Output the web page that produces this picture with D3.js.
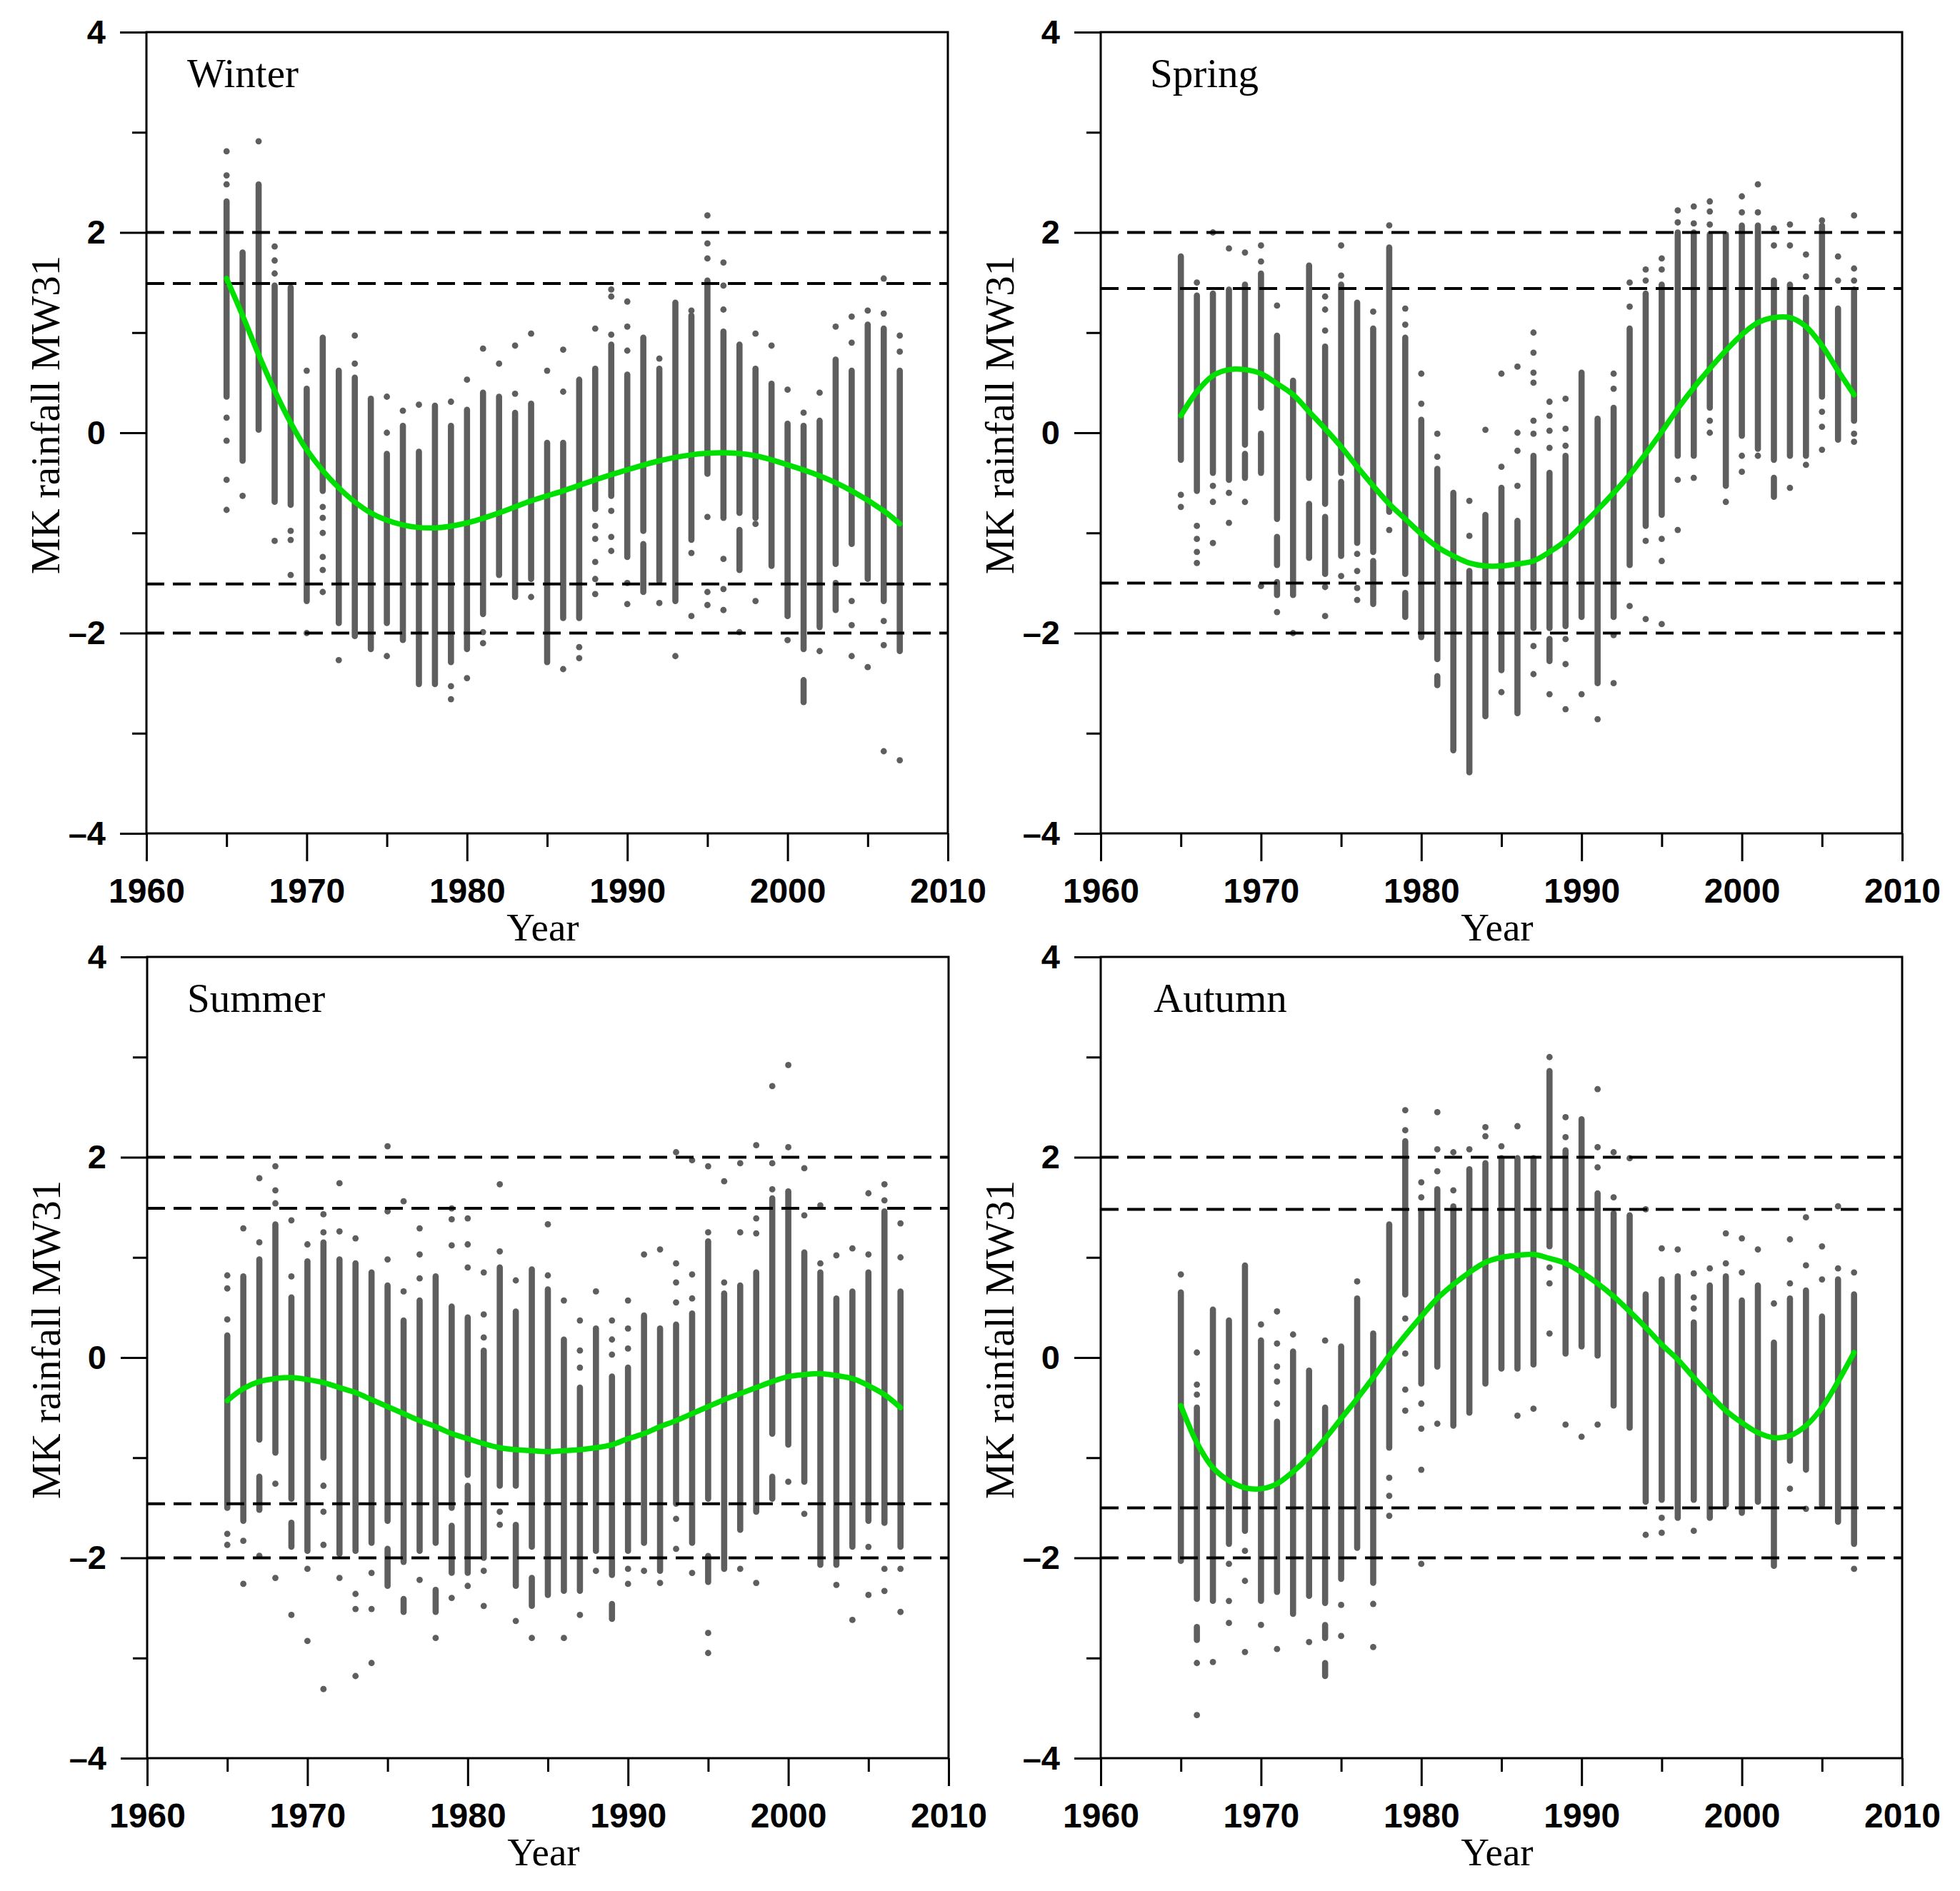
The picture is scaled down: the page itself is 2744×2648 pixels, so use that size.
<!DOCTYPE html>
<html>
<head>
<meta charset="utf-8">
<script src="https://cdn.jsdelivr.net/npm/d3@7"></script>
<style>
  body { margin: 0; background: #fff; }
  svg { display: block; }
</style>
</head>
<body>
<div id="chart"></div>
<script>
// ---- data ----
const years = [1965,1966,1967,1968,1969,1970,1971,1972,1973,1974,
  1975,1976,1977,1978,1979,1980,1981,1982,1983,1984,
  1985,1986,1987,1988,1989,1990,1991,1992,1993,1994,
  1995,1996,1997,1998,1999,2000,2001,2002,2003,2004,
  2005,2006,2007];

const xTicks = [1960,1970,1980,1990,2000,2010];
const xMinor = [1965,1975,1985,1995,2005];
const yTicks = [-4,-2,0,2,4];
const yMinor = [-3,-1,1,3];

// Winter: dense part of each year's column (top / bottom), extra runs, single dots, fitted curve
const winterHi = [2.31,1.80,2.48,1.47,1.45,0.44,0.95,0.62,0.55,0.34,
  -0.21,0.07,-0.19,0.27,0.07,0.23,0.40,0.36,0.20,0.29,
  -0.10,-0.10,0.53,0.64,0.88,0.58,0.95,0.64,1.30,1.17,
  1.52,1.01,0.88,0.64,0.49,0.09,0.07,0.12,0.73,0.62,
  1.08,1.04,0.62];
const winterLo = [0.36,-0.28,0.03,-0.69,-0.72,-1.68,-0.58,-1.90,-2.03,-2.16,
  -1.90,-2.07,-2.51,-2.51,-2.29,-2.16,-1.81,-1.42,-1.64,-1.46,
  -2.29,-1.85,-1.85,-0.76,-0.63,-1.24,-0.98,-1.48,-1.68,-1.07,
  -0.41,-0.85,-0.80,-0.85,-1.33,-1.83,-2.16,-1.94,-1.31,-1.11,
  -1.46,-1.68,-2.18];
const winterRuns = [[1991,-1.11,-1.59],[1997,-0.97,-1.37],[2001,-2.47,-2.69],[2003,-1.50,-1.77]];
const winterDots = [
  [1965,[2.81,2.57,2.48,0.15,-0.08,-0.47,-0.77]],[1966,[-0.63]],[1967,[2.91]],
  [1968,[1.86,1.72,1.59,-1.08]],[1969,[-0.98,-1.07,-1.42]],[1970,[0.62,-2.0]],
  [1971,[-0.74,-0.85,-1.0,-1.24,-1.37,-1.59]],[1972,[-2.27]],[1973,[0.97,0.69]],
  [1975,[0.36,0.0,-2.23]],[1976,[0.22]],[1977,[0.28]],[1979,[0.31,-2.53,-2.66]],
  [1980,[0.53,-2.45]],[1981,[0.84,-1.99,-2.10]],[1982,[0.69]],[1983,[0.87,0.39]],
  [1984,[0.99,-1.64]],[1985,[0.62]],[1986,[0.83,0.41,-2.36]],[1987,[-2.14,-2.25]],
  [1988,[1.04,-0.93,-1.06,-1.29,-1.46,-1.61]],[1989,[1.43,1.36,0.98,-0.78,-1.04,-1.18]],
  [1990,[1.31,1.06,0.82,-1.50,-1.71]],[1992,[0.74,-1.70]],[1993,[-2.23]],
  [1994,[1.22,-1.20,-1.83]],[1995,[2.17,1.89,1.74,-0.84,-1.59,-1.72]],
  [1996,[1.70,1.47,1.23,-1.26,-1.56,-1.77]],[1997,[-1.99]],[1998,[0.99,-0.91,-1.68]],
  [1999,[0.87]],[2000,[0.43,-2.07]],[2001,[0.20]],[2002,[0.40,-2.18]],[2003,[1.06]],
  [2004,[1.16,0.90,-1.68,-1.92,-2.23]],[2005,[1.22,-2.34]],
  [2006,[1.54,1.19,-1.88,-2.12,-3.18]],[2007,[0.97,0.81,-3.27]]];
const winterFitYears = [1965,1966,1967,1968,1969,1970,1972,1974,1976,1978,1980,1982,1984,
  1986,1988,1990,1992,1994,1996,1998,2000,2002,2004,2006,2007];
const winterFit = [1.54,1.17,0.78,0.42,0.10,-0.17,-0.55,-0.80,-0.92,-0.95,-0.90,-0.80,-0.68,
  -0.58,-0.47,-0.37,-0.28,-0.22,-0.20,-0.23,-0.32,-0.43,-0.58,-0.78,-0.91];
const winterLevels = [2, 1.49, -1.51, -2];

// Spring
const springHi = [1.76,1.37,1.39,1.43,1.48,1.59,0.97,0.52,1.67,0.86,
  1.48,1.30,1.04,1.85,0.95,0.13,-0.36,-0.60,-1.38,-0.82,
  -0.55,-0.88,-0.23,-0.40,-0.23,0.60,0.14,0.25,1.04,1.39,
  1.48,2.0,2.0,1.98,1.98,2.07,2.07,1.52,1.48,1.35,
  2.07,1.24,1.43];
const springLo = [-0.27,-0.58,-0.40,-0.47,-0.12,0.25,-0.86,-1.62,-0.45,-0.71,
  -0.40,-1.10,-1.19,-0.79,-1.41,-2.04,-2.26,-3.17,-3.39,-2.83,
  -2.37,-2.80,-1.95,-1.95,-1.93,-1.84,-2.50,-1.84,-1.32,-0.93,
  -0.82,-0.23,-0.23,0.25,-0.53,-0.03,-0.16,-0.27,-0.23,-0.23,
  0.36,-0.07,0.12];
const springRuns = [[1969,-0.21,-0.45],[1970,-0.01,-0.40],[1971,-1.04,-1.32],[1971,-1.49,-1.62],
  [1973,-0.71,-1.25],[1974,-0.84,-1.41],[1975,-0.49,-1.23],[1977,-1.28,-1.71],
  [1979,-1.60,-1.84],[1981,-2.43,-2.52],[1988,-2.06,-2.28],[2002,-0.45,-0.64]];
const springDots = [
  [1965,[-0.62,-0.74]],[1966,[1.50,-0.93,-1.06,-1.19,-1.30]],[1967,[2.0,-0.53,-0.69,-1.10]],
  [1968,[1.84,-0.60,-0.90]],[1969,[1.80,-0.69]],[1970,[1.87,1.71,-1.53]],[1971,[1.27,-1.79]],
  [1972,[-2.0]],[1974,[1.36,1.23,1.02,-1.54,-1.83]],[1975,[1.87,1.57,-1.43]],
  [1976,[-1.21,-1.38,-1.55,-1.67]],[1977,[1.21]],[1978,[2.07,-0.97]],[1979,[1.24,1.08]],
  [1980,[0.59,0.29]],[1981,[-0.01,-0.24]],[1983,[-0.68,-1.03]],[1984,[0.03]],
  [1985,[0.59,-0.34,-2.59]],[1986,[0.66,0.0,-0.18,-0.53]],
  [1987,[1.0,0.80,0.60,0.50,0.12,-0.01,-2.13,-2.41]],[1988,[0.31,0.17,0.02,-0.15,-2.61]],
  [1989,[0.34,0.04,-0.13,-2.06,-2.31,-2.76]],[1990,[-2.61]],[1991,[-2.86]],
  [1992,[0.59,0.44,-2.02,-2.50]],[1993,[1.50,1.26,-1.73]],[1994,[1.63,1.52,-1.08,-1.86]],
  [1995,[1.74,1.63,-1.06,-1.28,-1.91]],[1996,[2.22,2.10,-0.47,-0.97]],[1997,[2.26,2.09,-0.45]],
  [1998,[2.31,2.21,2.08,0.12,0.0]],[1999,[-0.69]],[2000,[2.36,2.20,-0.23,-0.39]],
  [2001,[2.48,2.20,-0.23]],[2002,[2.04,1.87]],[2003,[2.08,1.87,-0.55]],[2004,[1.78,1.56,-0.32]],
  [2005,[2.12,0.21,0.06,-0.17]],[2006,[1.76,1.52]],[2007,[2.17,1.64,1.52,-0.01,-0.09]]];
const springFitYears = years;
const springFit = [0.17,0.41,0.57,0.63,0.63,0.59,0.49,0.38,0.21,0.04,
  -0.14,-0.34,-0.53,-0.71,-0.86,-1.01,-1.14,-1.23,-1.30,-1.33,
  -1.33,-1.31,-1.28,-1.19,-1.08,-0.93,-0.77,-0.60,-0.42,-0.21,
  0.01,0.24,0.45,0.64,0.82,0.98,1.10,1.15,1.15,1.06,
  0.87,0.62,0.38];
const springLevels = [2, 1.44, -1.5, -2];

// Summer
const summerHi = [0.22,0.81,0.98,1.33,0.60,0.96,1.15,0.98,0.94,0.85,
  0.72,0.37,0.57,0.81,0.51,0.40,0.07,0.90,0.46,0.88,
  0.68,0.18,-0.30,0.29,-0.19,-0.10,0.42,0.29,0.33,0.44,
  1.16,0.64,0.72,0.85,1.59,1.66,1.05,0.85,0.59,0.66,
  0.85,1.46,0.66];
const summerLo = [-1.50,-1.63,-0.82,-0.95,-1.41,-1.93,-1.0,-1.96,-1.93,-1.85,
  -1.63,-2.04,-1.93,-1.85,-1.50,-1.17,-2.0,-1.28,-1.28,-1.89,
  -2.37,-2.33,-2.33,-1.93,-2.17,-1.93,-1.85,-2.13,-1.46,-1.85,
  -1.41,-2.11,-1.72,-1.54,-0.76,-0.87,-1.24,-2.07,-2.07,-1.89,
  -1.63,-1.65,-1.89];
const summerRuns = [[1967,-1.19,-1.52],[1969,-1.65,-1.89],[1975,-1.91,-2.28],[1976,-2.41,-2.54],
  [1978,-2.32,-2.54],[1979,-1.68,-2.15],[1980,-1.28,-2.15],[1983,-1.67,-2.28],
  [1984,-2.20,-2.48],[1989,-2.46,-2.61],[1995,-1.98,-2.24],[1999,-1.19,-1.41]];
const summerDots = [
  [1965,[0.82,0.69,0.38,-1.76,-1.87]],[1966,[1.29,-1.83,-2.26]],[1967,[1.79,1.15,-1.98]],
  [1968,[1.91,1.67,1.54,-1.26,-2.20]],[1969,[1.37,0.81,-2.57]],[1970,[1.13,-2.11,-2.83]],
  [1971,[1.43,1.25,-1.28,-1.54,-1.87,-3.31]],[1972,[1.74,1.26,-2.20]],
  [1973,[1.19,-2.36,-2.51,-3.18]],[1974,[-2.15,-2.51,-3.05]],[1975,[2.11,1.46,0.98]],
  [1976,[1.56,0.66]],[1977,[1.29,1.03,0.79,-2.22]],[1978,[-2.80]],[1979,[1.49,1.38,1.12,-2.40]],
  [1980,[1.39,1.13,0.90,-2.28]],[1981,[0.85,0.43,0.20,-2.13,-2.48]],[1982,[1.73,1.06,-1.54,-1.67]],
  [1983,[0.77,-2.63]],[1984,[-2.80]],[1985,[1.33,0.82]],[1986,[0.57,-2.80]],
  [1987,[0.37,0.07,-0.10,-2.57]],[1988,[0.66,-2.13]],[1989,[0.37,0.18,0.03]],
  [1990,[0.57,0.29,0.09,-2.11,-2.26]],[1991,[1.03,-2.13]],[1992,[1.08,-2.25]],
  [1993,[2.05,0.94,0.75,0.55,-1.61,-1.91]],[1994,[1.97,0.83,0.59,-2.15]],
  [1995,[1.91,1.25,-2.75,-2.95]],[1996,[1.76,0.75]],[1997,[1.94,1.25,-2.11]],
  [1998,[2.12,1.39,1.24,-2.25]],[1999,[2.71,1.94,1.68]],[2000,[2.92,2.10,-1.24]],
  [2001,[1.89,1.42,-1.56]],[2002,[1.52,0.94]],[2003,[1.02,-2.27]],[2004,[1.09,-2.62]],
  [2005,[1.64,1.03,-1.89,-2.37]],[2006,[1.73,1.57,-2.11,-2.33]],[2007,[1.34,1.0,-2.11,-2.54]]];
const summerFitYears = years;
const summerFit = [-0.43,-0.31,-0.24,-0.21,-0.20,-0.22,-0.25,-0.30,-0.35,-0.42,
  -0.49,-0.56,-0.63,-0.69,-0.76,-0.81,-0.86,-0.90,-0.92,-0.93,
  -0.94,-0.93,-0.92,-0.90,-0.87,-0.81,-0.76,-0.69,-0.63,-0.56,
  -0.49,-0.42,-0.36,-0.30,-0.24,-0.19,-0.17,-0.16,-0.18,-0.21,
  -0.28,-0.37,-0.50];
const summerLevels = [2, 1.49, -1.46, -2];

// Autumn
const autumnHi = [0.65,-0.50,0.48,0.37,0.92,0.17,-0.64,0.06,-0.13,-0.50,
  0.11,0.59,0.24,1.33,2.16,1.46,1.68,1.51,1.88,1.94,
  1.99,1.99,1.99,2.86,2.07,2.38,1.64,1.44,1.42,0.63,
  0.78,0.81,0.35,0.72,0.81,0.57,0.72,0.15,0.59,0.67,
  0.41,0.78,0.63];
const autumnLo = [-2.03,-2.41,-2.43,-1.86,-1.73,-2.43,-2.34,-2.56,-2.38,-2.45,
  -2.21,-1.90,-2.25,-0.90,0.63,-0.26,-0.09,-0.68,-0.55,-0.26,
  -0.11,-0.11,-0.07,1.11,0.04,0.11,0.02,-0.48,-0.70,-1.44,
  -1.42,-1.60,-1.42,-1.60,-1.47,-1.55,-1.44,-2.08,-1.03,-1.12,
  -1.47,-1.64,-1.86];
const autumnRuns = [[1966,-2.69,-2.82],[1974,-2.67,-2.80],[1974,-3.05,-3.18]];
const autumnDots = [
  [1965,[0.83]],[1966,[0.05,-0.27,-0.37,-3.05,-3.57]],[1967,[-3.04]],[1968,[-2.06,-2.43,-2.65]],
  [1969,[-1.93,-2.23,-2.94]],[1970,[0.33,-2.67]],[1971,[0.46,0.14,-0.09,-0.24,-0.46,-2.91]],
  [1972,[0.23]],[1973,[-2.84]],[1974,[0.17]],[1975,[-2.47,-2.78]],[1976,[0.76]],
  [1977,[-2.46,-2.89]],[1978,[-1.20,-1.38,-1.58]],[1979,[2.47,2.27,0.39,0.04,-0.32,-0.53]],
  [1980,[1.75,1.60,-0.46,-0.71,-1.12,-2.06]],[1981,[2.45,2.08,1.86,-0.66]],[1982,[2.05,1.67]],
  [1983,[2.08]],[1984,[2.30,2.21]],[1985,[2.11]],[1986,[2.31,-0.58]],[1987,[-0.51]],
  [1988,[3.0,0.90,0.74,0.24]],[1989,[2.40,2.20,-0.67]],[1990,[-0.79]],
  [1991,[2.68,2.10,1.90,-0.67]],[1992,[2.05,1.60]],[1993,[1.99]],[1994,[1.48,-1.77]],
  [1995,[1.09,-1.60,-1.75]],[1996,[1.08]],[1997,[0.84,0.60,0.49,-1.73]],[1998,[0.89]],
  [1999,[1.24,0.94]],[2000,[1.19,0.85]],[2001,[1.08]],[2002,[0.54]],[2003,[1.18,0.74,-1.31]],
  [2004,[1.40,0.92,-1.51]],[2005,[1.11,0.78]],[2006,[1.51,0.89]],[2007,[0.85,-2.11]]];
const autumnFitYears = years;
const autumnFit = [-0.48,-0.85,-1.10,-1.23,-1.30,-1.31,-1.26,-1.14,-0.99,-0.81,
  -0.61,-0.41,-0.20,0.02,0.22,0.41,0.59,0.73,0.85,0.95,
  1.00,1.02,1.03,0.99,0.94,0.85,0.74,0.61,0.46,0.30,
  0.13,-0.02,-0.20,-0.37,-0.53,-0.65,-0.75,-0.80,-0.78,-0.68,
  -0.50,-0.24,0.05];
const autumnLevels = [2, 1.48, -1.5, -2];

// ---- drawing ----
const W = 2744, H = 2648, size = 1122;
const dotColor = "#5e5e5e";

const panels = [
  {name: "Winter", left: 205, top: 45, labelDx: 57,
   hi: winterHi, lo: winterLo, runs: winterRuns, dots: winterDots,
   fitYears: winterFitYears, fit: winterFit, levels: winterLevels},
  {name: "Spring", left: 1541, top: 45, labelDx: 69,
   hi: springHi, lo: springLo, runs: springRuns, dots: springDots,
   fitYears: springFitYears, fit: springFit, levels: springLevels},
  {name: "Summer", left: 206, top: 1340, labelDx: 56,
   hi: summerHi, lo: summerLo, runs: summerRuns, dots: summerDots,
   fitYears: summerFitYears, fit: summerFit, levels: summerLevels},
  {name: "Autumn", left: 1541, top: 1340, labelDx: 74,
   hi: autumnHi, lo: autumnLo, runs: autumnRuns, dots: autumnDots,
   fitYears: autumnFitYears, fit: autumnFit, levels: autumnLevels}
];

const svg = d3.select("#chart").append("svg")
    .attr("width", W)
    .attr("height", H);

svg.append("rect")
    .attr("width", W)
    .attr("height", H)
    .attr("fill", "white");

const x = d3.scaleLinear().domain([1960, 2010]).range([0, size]);
const y = d3.scaleLinear().domain([-4, 4]).range([size, 0]);

const fmtY = d => d < 0 ? "\u2013" + Math.abs(d) : String(d);

function drawPanel(p) {
  const g = svg.append("g").attr("transform", `translate(${p.left},${p.top})`);

  // dense column parts
  const cols = years.map((yr, i) => ({yr: yr, hi: p.hi[i], lo: p.lo[i]}))
      .concat(p.runs.map(r => ({yr: r[0], hi: r[1], lo: r[2]})));
  g.append("g").selectAll("line")
    .data(cols)
    .join("line")
      .attr("x1", d => x(d.yr))
      .attr("x2", d => x(d.yr))
      .attr("y1", d => y(d.hi))
      .attr("y2", d => y(d.lo))
      .attr("stroke", dotColor)
      .attr("stroke-width", 8.6)
      .attr("stroke-linecap", "round");

  // single dots
  const pts = p.dots.flatMap(([yr, vs]) => vs.map(v => ({yr: yr, v: v})));
  g.append("g").selectAll("circle")
    .data(pts)
    .join("circle")
      .attr("cx", d => x(d.yr))
      .attr("cy", d => y(d.v))
      .attr("r", 4.4)
      .attr("fill", dotColor);

  // significance levels
  g.append("g").selectAll("line")
    .data(p.levels)
    .join("line")
      .attr("x1", 0)
      .attr("x2", size)
      .attr("y1", d => y(d))
      .attr("y2", d => y(d))
      .attr("stroke", "#000")
      .attr("stroke-width", 4)
      .attr("stroke-dasharray", "25 12");

  // fitted curve
  const line = d3.line()
      .x(d => x(d[0]))
      .y(d => y(d[1]))
      .curve(d3.curveCatmullRom.alpha(0.5));
  g.append("path")
    .datum(p.fitYears.map((yr, i) => [yr, p.fit[i]]))
    .attr("d", line)
    .attr("fill", "none")
    .attr("stroke", "#00e000")
    .attr("stroke-width", 7.5)
    .attr("stroke-linecap", "round");

  // frame
  g.append("rect")
    .attr("width", size)
    .attr("height", size)
    .attr("fill", "none")
    .attr("stroke", "#000")
    .attr("stroke-width", 3);

  // y axis
  const yAxis = g.append("g")
      .call(d3.axisLeft(y).tickValues(yTicks).tickSize(37).tickPadding(20).tickFormat(fmtY));
  const yAxisMinor = g.append("g")
      .call(d3.axisLeft(y).tickValues(yMinor).tickSize(20).tickFormat(""));
  // x axis
  const xAxis = g.append("g")
      .attr("transform", `translate(0,${size})`)
      .call(d3.axisBottom(x).tickValues(xTicks).tickSize(39).tickPadding(24).tickFormat(d3.format("d")));
  const xAxisMinor = g.append("g")
      .attr("transform", `translate(0,${size})`)
      .call(d3.axisBottom(x).tickValues(xMinor).tickSize(19).tickFormat(""));

  [yAxis, yAxisMinor, xAxis, xAxisMinor].forEach(a => {
    a.select(".domain").remove();
    a.selectAll(".tick line").attr("stroke", "#000").attr("stroke-width", 3);
  });
  yAxis.selectAll("text")
      .attr("font-family", "'Liberation Sans', Arial, sans-serif")
      .attr("font-weight", "bold")
      .attr("font-size", 47)
      .attr("fill", "#000");
  xAxis.selectAll("text")
      .attr("font-family", "'Liberation Sans', Arial, sans-serif")
      .attr("font-weight", "bold")
      .attr("font-size", 48)
      .attr("fill", "#000");

  // labels
  g.append("text")
    .attr("x", p.labelDx)
    .attr("y", 77)
    .attr("font-family", "'Liberation Serif', 'DejaVu Serif', serif")
    .attr("font-size", 57)
    .attr("fill", "#000")
    .text(p.name);

  g.append("text")
    .attr("transform", `translate(-122,${536}) rotate(-90)`)
    .attr("text-anchor", "middle")
    .attr("font-family", "'Liberation Serif', 'DejaVu Serif', serif")
    .attr("font-size", 57)
    .attr("fill", "#000")
    .text("MK rainfall MW31");

  g.append("text")
    .attr("x", 555)
    .attr("y", size + 150)
    .attr("text-anchor", "middle")
    .attr("font-family", "'Liberation Serif', 'DejaVu Serif', serif")
    .attr("font-size", 55)
    .attr("fill", "#000")
    .text("Year");
}

panels.forEach(drawPanel);
</script>
</body>
</html>
